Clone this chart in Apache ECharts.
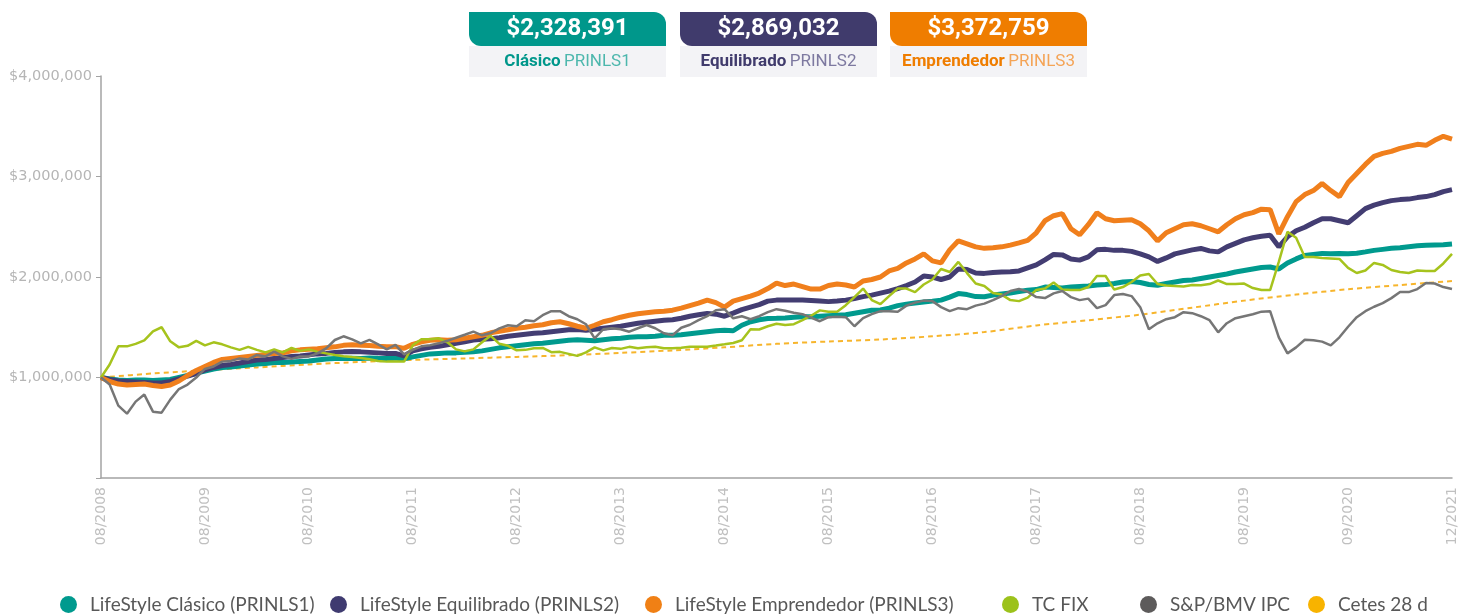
<!DOCTYPE html>
<html>
<head>
<meta charset="utf-8">
<script src="https://cdn.jsdelivr.net/npm/echarts@6/dist/echarts.min.js"></script>
<style>
  html, body { margin: 0; padding: 0; background: #fff; }
  #chart { width: 1460px; height: 615px; }
</style>
</head>
<body>
<div id="chart"></div>
<script>
// x axis: one tick label every STEP points
const tickLabels = ["08/2008", "08/2009", "08/2010", "08/2011", "08/2012", "08/2013", "08/2014",
  "08/2015", "08/2016", "08/2017", "08/2018", "08/2019", "09/2020", "12/2021"];
const STEP = 12;

const seriesNames = ["LifeStyle Clásico (PRINLS1)", "LifeStyle Equilibrado (PRINLS2)",
  "LifeStyle Emprendedor (PRINLS3)", "TC FIX", "S&P/BMV IPC", "Cetes 28 d"];

// values in thousands of pesos
const clasico = [
  1000, 985, 975, 970, 975, 975, 970, 975, 980, 1000, 1020, 1045,
  1065, 1085, 1100, 1105, 1115, 1125, 1135, 1140, 1150, 1150, 1155, 1160,
  1165, 1175, 1185, 1190, 1190, 1192, 1190, 1195, 1192, 1190, 1195, 1185,
  1205, 1220, 1235, 1240, 1245, 1245, 1250, 1255, 1265, 1280, 1295, 1305,
  1315, 1325, 1335, 1340, 1350, 1360, 1370, 1375, 1370, 1365, 1375, 1385,
  1390, 1400, 1405, 1405, 1410, 1420, 1420, 1425, 1435, 1445, 1455, 1465,
  1470, 1465, 1520, 1555, 1575, 1588, 1589, 1592, 1600, 1605, 1605, 1610,
  1615, 1620, 1625, 1640, 1655, 1670, 1672, 1690, 1715, 1730, 1742, 1752,
  1760, 1770, 1800, 1835, 1825, 1805, 1804, 1820, 1830, 1840, 1855, 1868,
  1875, 1900, 1895, 1890, 1900, 1905, 1910, 1920, 1925, 1935, 1950, 1955,
  1945, 1925, 1918, 1935, 1950, 1965, 1970, 1985, 2000, 2015, 2030, 2050,
  2065, 2080, 2095, 2100, 2080, 2140, 2180, 2215, 2225, 2235, 2232, 2235,
  2232, 2236, 2250, 2265, 2275, 2285, 2290, 2300, 2310, 2315, 2318, 2320,
  2328
];

const equilibrado = [
  1000, 980, 965, 960, 955, 950, 945, 945, 960, 985, 1015, 1040,
  1075, 1100, 1120, 1130, 1145, 1160, 1175, 1180, 1190, 1200, 1208, 1215,
  1225, 1235, 1240, 1250, 1255, 1258, 1255, 1250, 1245, 1240, 1240, 1215,
  1265, 1285, 1300, 1310, 1325, 1340, 1355, 1372, 1380, 1385, 1395, 1410,
  1420, 1430, 1440, 1445, 1455, 1465, 1475, 1478, 1470, 1480, 1490, 1500,
  1510, 1525, 1540, 1550, 1560, 1570, 1575, 1590, 1610, 1625, 1638, 1630,
  1610, 1640, 1675, 1700, 1725, 1760, 1770, 1770, 1772, 1770, 1765, 1760,
  1755, 1762, 1770, 1785, 1805, 1820, 1840, 1860, 1885, 1915, 1950, 2010,
  2000, 1975, 2000, 2080, 2075, 2040, 2036, 2045, 2050, 2052, 2060, 2090,
  2120, 2170, 2225, 2220, 2180, 2168, 2200, 2270, 2275, 2265, 2265, 2255,
  2230, 2200, 2155, 2190, 2230, 2250, 2270, 2284, 2260, 2250, 2300, 2335,
  2370, 2390, 2405, 2416, 2300, 2400, 2460, 2495, 2540, 2580, 2580, 2560,
  2540, 2610, 2680, 2715, 2740, 2760, 2770, 2775, 2790, 2800, 2820, 2850,
  2869
];

const emprendedor = [
  1000, 960, 935, 925, 930, 935, 920, 910, 925, 965, 1020, 1070,
  1110, 1150, 1180, 1190, 1200, 1210, 1220, 1230, 1240, 1245, 1265, 1275,
  1280, 1285, 1295, 1305, 1320, 1325, 1322, 1318, 1310, 1305, 1307, 1290,
  1330, 1355, 1370, 1375, 1370, 1375, 1390, 1405, 1420, 1445, 1460, 1475,
  1490, 1500, 1515, 1525, 1545, 1555, 1535, 1510, 1490, 1520, 1555, 1575,
  1600, 1620, 1635, 1645, 1655, 1660, 1670, 1690, 1715, 1740, 1770, 1745,
  1700, 1760, 1785, 1810, 1840, 1885, 1940, 1915, 1930, 1905, 1880, 1880,
  1915, 1930, 1920, 1900, 1960, 1975, 2000, 2060, 2085, 2140, 2180, 2230,
  2160, 2140, 2270, 2360, 2330, 2300, 2285, 2290, 2300, 2317, 2340, 2365,
  2440, 2560, 2610, 2630, 2480, 2420, 2520, 2640, 2580, 2560, 2565, 2570,
  2530, 2460, 2360, 2440, 2480, 2520, 2530, 2510, 2480, 2450, 2520, 2580,
  2620, 2640, 2675, 2670, 2430, 2600, 2750, 2820, 2860, 2930, 2860, 2800,
  2940, 3030, 3120, 3200, 3230, 3250, 3280, 3300, 3320, 3310, 3360, 3400,
  3373
];

const tcFix = [
  1000, 1130, 1310, 1310, 1335, 1370, 1460, 1500, 1360, 1300, 1315, 1365,
  1320, 1350, 1330, 1300, 1275, 1305, 1275, 1250, 1280, 1250, 1294, 1265,
  1280, 1255, 1240, 1224, 1212, 1203, 1195, 1182, 1165, 1158, 1160, 1158,
  1320, 1380, 1380, 1390, 1350, 1280, 1260, 1280, 1350, 1415, 1335, 1315,
  1270, 1275, 1290, 1294, 1252, 1255, 1235, 1215, 1250, 1300, 1270, 1294,
  1285, 1305, 1292, 1300, 1305, 1292, 1290, 1295, 1305, 1307, 1307, 1318,
  1330, 1343, 1370, 1480, 1478, 1510, 1535, 1522, 1530, 1570, 1615, 1668,
  1654, 1654, 1720, 1800, 1885, 1770, 1730, 1810, 1885, 1885, 1850, 1925,
  1975, 2080, 2050, 2150, 2039, 1935, 1910, 1840, 1825, 1770, 1760, 1795,
  1870, 1885, 1945, 1875, 1870, 1870, 1900, 2010, 2010, 1875, 1900, 1950,
  2015, 2030, 1930, 1915, 1910, 1905, 1920, 1918, 1930, 1965, 1930, 1930,
  1935, 1890, 1870, 1870, 2150, 2450, 2390, 2200, 2200, 2190, 2185, 2180,
  2090, 2040, 2065, 2140, 2120, 2070, 2050, 2040, 2065, 2060, 2060, 2135,
  2230
];

const ipc = [
  1000, 930, 720, 640, 760, 830, 660, 650, 780, 885, 930, 1000,
  1085, 1110, 1158, 1165, 1190, 1180, 1224, 1210, 1257, 1210, 1185, 1210,
  1210, 1240, 1290, 1373, 1410, 1380, 1340, 1375, 1330, 1280, 1324, 1230,
  1274, 1310, 1320, 1340, 1365, 1395, 1425, 1456, 1420, 1442, 1489, 1520,
  1510, 1570, 1560, 1620, 1660, 1660, 1610, 1580, 1530, 1390, 1480, 1490,
  1480, 1456, 1490, 1522, 1490, 1440, 1420, 1495, 1525, 1570, 1610, 1670,
  1680, 1589, 1610, 1580, 1610, 1650, 1680, 1665, 1645, 1630, 1595, 1560,
  1600, 1605, 1600, 1510, 1590, 1630, 1660, 1660, 1654, 1715, 1745, 1765,
  1760, 1700, 1660, 1690, 1680, 1715, 1735, 1770, 1810, 1860, 1880, 1853,
  1800, 1790, 1837, 1860, 1800, 1770, 1785, 1690, 1720, 1820, 1830, 1810,
  1700, 1480, 1539, 1580, 1600, 1650, 1640, 1610, 1570, 1450, 1540, 1590,
  1610, 1630, 1655, 1660, 1400, 1240, 1300, 1375, 1370, 1357, 1320, 1400,
  1505, 1600, 1660, 1704, 1740, 1790, 1850, 1850, 1880, 1940, 1935, 1900,
  1880
];

// Cetes is a smooth curve, read every CETES_STEP points
const CETES_STEP = 6;
const cetes = [1000, 1040, 1072, 1100, 1130, 1155, 1175, 1190, 1205, 1222, 1245, 1270, 1300,
  1335, 1358, 1378, 1410, 1452, 1518, 1570, 1625, 1695, 1765, 1825, 1878, 1920, 1960];

// header boxes: final values
const boxValues = ["$2,328,391", "$2,869,032", "$3,372,759"];
const boxNames = ["Clásico", "Equilibrado", "Emprendedor"];
const boxCodes = ["PRINLS1", "PRINLS2", "PRINLS3"];

const colors = ["#009a8e", "#433d72", "#f07f1c", "#a6c31d", "#767676", "#f7b52c"];
const legendColors = ["#009a8e", "#3f3b70", "#f08015", "#9cc21b", "#5d5b5b", "#f8b300"];
const boxColors = ["#00978b", "#403b6c", "#ef7d00"];
const codeColors = ["#4db7ad", "#7d79a0", "#f4a457"];
const boxLeft = [469, 680, 890];
const legendLeft = [60, 330, 645, 1002, 1140, 1308];

const chart = echarts.init(document.getElementById("chart"));

const xCats = Array.from({ length: (tickLabels.length - 1) * STEP + 1 }, (_, i) => String(i));
const lines = [clasico, equilibrado, emprendedor, tcFix, ipc];
const widths = [5, 5, 5, 2.5, 2.5];

const series = lines.map((d, k) => ({
  name: seriesNames[k],
  type: "line",
  data: d,
  color: legendColors[k],
  showSymbol: false,
  lineStyle: { color: colors[k], width: widths[k] },
  z: 2 + k,
}));
series.push({
  name: seriesNames[5],
  type: "line",
  data: cetes.map((v, i) => [i * CETES_STEP, v]),
  color: legendColors[5],
  showSymbol: false,
  smooth: 0.3,
  lineStyle: { color: colors[5], width: 2, type: [5, 4] },
  z: 1,
});

const graphic = [];
boxLeft.forEach((x, k) => {
  graphic.push({
    type: "rect", left: x, top: 46,
    shape: { width: 197, height: 31 },
    style: { fill: "#f3f3f6" },
  });
  graphic.push({
    type: "rect", left: x, top: 12,
    shape: { width: 197, height: 34, r: [0, 12, 0, 12] },
    style: { fill: boxColors[k] },
  });
  graphic.push({
    type: "text", x: x + 98.5, y: 29,
    style: {
      text: boxValues[k], fill: "#fff", align: "center", verticalAlign: "middle",
      font: "bold 24px Roboto",
    },
  });
  graphic.push({
    type: "text", x: x + 98.5, y: 62,
    style: {
      text: "{b|" + boxNames[k] + "} {r|" + boxCodes[k] + "}",
      align: "center", verticalAlign: "middle",
      rich: {
        b: { fontFamily: "Roboto", fontWeight: "bold", fontSize: 17, fill: boxColors[k], color: boxColors[k] },
        r: { fontFamily: "Roboto", fontSize: 17, fill: codeColors[k], color: codeColors[k] },
      },
    },
  });
});

const option = {
  animation: false,
  grid: { left: 101, right: 8, top: 76, bottom: 137 },
  xAxis: {
    type: "category",
    data: xCats,
    boundaryGap: false,
    axisLine: { lineStyle: { color: "#a3a3a3", width: 1.5 } },
    axisTick: { show: false },
    axisLabel: {
      interval: STEP - 1,
      rotate: 90,
      margin: 9,
      color: "#c0c0c0",
      fontFamily: "DejaVu Sans",
      fontSize: 14,
      formatter: (v, i) => tickLabels[i / STEP] || "",
    },
    splitLine: { show: false },
  },
  yAxis: {
    type: "value",
    min: 0,
    max: 4000,
    interval: 1000,
    axisLine: { show: true, lineStyle: { color: "#a3a3a3", width: 1.5 } },
    axisTick: { show: true, length: 5, lineStyle: { color: "#a3a3a3" } },
    axisLabel: {
      margin: 9,
      color: "#b5b5b5",
      fontFamily: "DejaVu Sans",
      fontSize: 14.5,
      formatter: (v) => (v === 0 ? "" : "$" + (v * 1000).toLocaleString("en-US")),
    },
    splitLine: { show: false },
  },
  legend: seriesNames.map((n, k) => ({
    data: [n],
    left: legendLeft[k],
    top: 595,
    padding: 0,
    icon: "circle",
    itemWidth: 17,
    itemHeight: 17,
    selectedMode: false,
    textStyle: { color: "#585858", fontFamily: "Lato", fontSize: 19, padding: [0, 0, 0, 8] },
  })),
  graphic,
  series,
};

chart.setOption(option);
</script>
</body>
</html>
